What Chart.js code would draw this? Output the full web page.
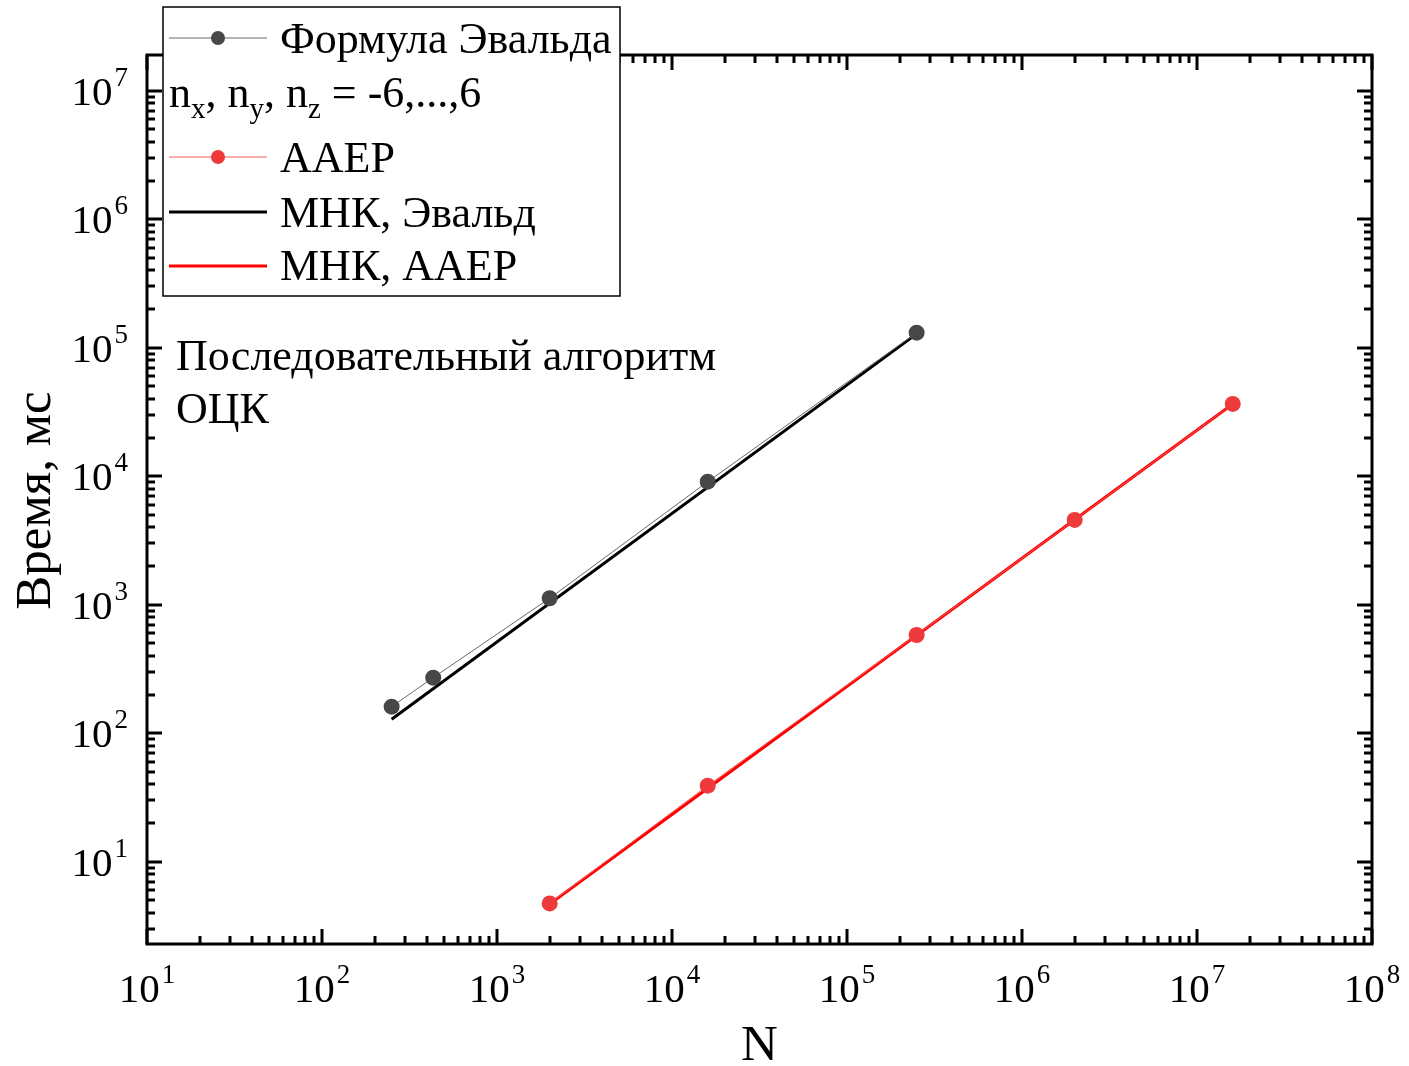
<!DOCTYPE html>
<html>
<head>
<meta charset="utf-8">
<title>Время расчёта</title>
<script src="https://cdn.jsdelivr.net/npm/chart.js@4.4.1/dist/chart.umd.min.js"></script>
<style>
  html, body { margin: 0; padding: 0; background: #ffffff; }
  canvas { display: block; }
</style>
</head>
<body>
<canvas id="c" width="1409" height="1066"></canvas>
<script>
// Measured run times (ms) versus number of particles N, BCC lattice
const ewaldN = [250, 432, 2000, 16000, 250000];
const ewaldTime = [161, 271, 1124, 9078, 131200];
const aaepN = [2000, 16000, 250000, 2000000, 16000000];
const aaepTime = [4.74, 39.1, 582, 4571, 36560];

// Least-squares fit lines (end points)
const fitEwaldN = [250, 250000];
const fitEwaldTime = [128.5, 128300];
const fitAaepN = [2000, 16000000];
const fitAaepTime = [4.69, 36560];

// Axis ranges and decade tick exponents
const xRange = [10, 1e8];
const yRange = [2.29, 1.9e7];
const xExponents = [1, 2, 3, 4, 5, 6, 7, 8];
const yExponents = [1, 2, 3, 4, 5, 6, 7];

// Texts
const seriesNames = ['Формула Эвальда', 'AAEP', 'МНК, Эвальд', 'МНК, AAEP'];
const rangeNote = [
  { t: 'n' }, { t: 'x', sub: true }, { t: ', n' }, { t: 'y', sub: true },
  { t: ', n' }, { t: 'z', sub: true }, { t: ' = -6,...,6' }
];
const noteLines = ['Последовательный алгоритм', 'ОЦК'];
const xTitle = 'N';
const yTitle = 'Время, мс';

const FONT = "'Liberation Serif', 'Times New Roman', serif";
const EWALD_COLOR = '#474747';
const AAEP_COLOR = '#ee3a3a';

const toPoints = (xs, ys) => xs.map((x, i) => ({ x: x, y: ys[i] }));

// Draws "10" with a raised exponent
function drawPower(ctx, exp, x, baseY, align) {
  ctx.font = '41px ' + FONT;
  const wb = ctx.measureText('10').width;
  ctx.font = '27px ' + FONT;
  const we = ctx.measureText(String(exp)).width;
  const gap = 2;
  const total = wb + gap + we;
  let start = x;
  if (align === 'center') start = x - total / 2;
  else if (align === 'right') start = x - total;
  ctx.fillStyle = '#000';
  ctx.textAlign = 'left';
  ctx.textBaseline = 'alphabetic';
  ctx.font = '41px ' + FONT;
  ctx.fillText('10', start, baseY);
  ctx.font = '27px ' + FONT;
  ctx.fillText(String(exp), start + wb + gap, baseY - 19);
}

const decorations = {
  id: 'decorations',
  afterDraw(chart) {
    const ctx = chart.ctx;
    const a = chart.chartArea;
    const xs = chart.scales.x;
    const ys = chart.scales.y;
    ctx.save();

    // ticks on all four sides, pointing inward
    ctx.strokeStyle = '#000';
    ctx.lineWidth = 3;
    ctx.lineCap = 'butt';
    const majorLen = 15, minorLen = 8;
    for (let d = 0; d <= 8; d++) {
      for (let k = 1; k <= 9; k++) {
        const v = k * Math.pow(10, d);
        const len = k === 1 ? majorLen : minorLen;
        if (v >= xRange[0] && v <= xRange[1]) {
          const px = Math.round(xs.getPixelForValue(v));
          ctx.beginPath();
          ctx.moveTo(px, a.bottom); ctx.lineTo(px, a.bottom - len);
          ctx.moveTo(px, a.top); ctx.lineTo(px, a.top + len);
          ctx.stroke();
        }
        if (v >= yRange[0] && v <= yRange[1]) {
          const py = Math.round(ys.getPixelForValue(v));
          ctx.beginPath();
          ctx.moveTo(a.left, py); ctx.lineTo(a.left + len, py);
          ctx.moveTo(a.right, py); ctx.lineTo(a.right - len, py);
          ctx.stroke();
        }
      }
    }

    // frame
    ctx.lineWidth = 3;
    ctx.strokeRect(a.left, a.top, a.right - a.left, a.bottom - a.top);

    // tick labels
    xExponents.forEach(e => {
      const px = xs.getPixelForValue(Math.pow(10, e));
      drawPower(ctx, e, px, 1002, 'center');
    });
    yExponents.forEach(e => {
      const py = ys.getPixelForValue(Math.pow(10, e));
      drawPower(ctx, e, 128, py + 14, 'right');
    });

    // axis titles
    ctx.fillStyle = '#000';
    ctx.font = '51px ' + FONT;
    ctx.textAlign = 'center';
    ctx.textBaseline = 'alphabetic';
    ctx.fillText(xTitle, (a.left + a.right) / 2, 1060);
    ctx.save();
    ctx.translate(50, (a.top + a.bottom) / 2 + 1);
    ctx.rotate(-Math.PI / 2);
    ctx.fillText(yTitle, 0, 0);
    ctx.restore();

    // note inside the plot
    ctx.font = '44px ' + FONT;
    ctx.textAlign = 'left';
    ctx.fillText(noteLines[0], 176, 370);
    ctx.fillText(noteLines[1], 176, 423);

    // legend box
    const lx = 163, ly = 7, lw = 457, lh = 289;
    ctx.fillStyle = '#fff';
    ctx.fillRect(lx, ly, lw, lh);
    ctx.strokeStyle = '#000';
    ctx.lineWidth = 1.5;
    ctx.strokeRect(lx, ly, lw, lh);

    const ds = chart.data.datasets;
    const rows = [
      { d: ds[0], y: 38, base: 53, name: seriesNames[0], marker: true },
      { d: ds[1], y: 157, base: 172, name: seriesNames[1], marker: true },
      { d: ds[2], y: 212, base: 227, name: seriesNames[2], marker: false },
      { d: ds[3], y: 266, base: 280, name: seriesNames[3], marker: false }
    ];
    rows.forEach(r => {
      ctx.strokeStyle = r.d.borderColor;
      ctx.lineWidth = r.d.borderWidth;
      ctx.beginPath();
      ctx.moveTo(169, r.y); ctx.lineTo(267, r.y);
      ctx.stroke();
      if (r.marker) {
        ctx.fillStyle = r.d.pointBackgroundColor;
        ctx.beginPath();
        ctx.arc(218, r.y, 7, 0, Math.PI * 2);
        ctx.fill();
      }
      ctx.fillStyle = '#000';
      ctx.font = '44px ' + FONT;
      ctx.fillText(r.name, 280, r.base);
    });

    // lattice range line with subscripts
    let cx = 169;
    rangeNote.forEach(s => {
      ctx.font = (s.sub ? '29px ' : '44px ') + FONT;
      ctx.fillText(s.t, cx, s.sub ? 118 : 107);
      cx += ctx.measureText(s.t).width;
    });

    ctx.restore();
  }
};

new Chart(document.getElementById('c'), {
  type: 'scatter',
  data: {
    datasets: [
      {
        label: seriesNames[0],
        data: toPoints(ewaldN, ewaldTime),
        showLine: true,
        borderColor: '#6a6a6a',
        borderWidth: 1,
        pointRadius: 8,
        pointBackgroundColor: EWALD_COLOR,
        pointBorderWidth: 0,
        pointBorderColor: EWALD_COLOR
      },
      {
        label: seriesNames[1],
        data: toPoints(aaepN, aaepTime),
        showLine: true,
        borderColor: '#f25a5a',
        borderWidth: 1,
        pointRadius: 8,
        pointBackgroundColor: AAEP_COLOR,
        pointBorderWidth: 0,
        pointBorderColor: AAEP_COLOR
      },
      {
        label: seriesNames[2],
        data: toPoints(fitEwaldN, fitEwaldTime),
        showLine: true,
        borderColor: '#000000',
        borderWidth: 3,
        pointRadius: 0
      },
      {
        label: seriesNames[3],
        data: toPoints(fitAaepN, fitAaepTime),
        showLine: true,
        borderColor: '#ff0000',
        borderWidth: 3,
        pointRadius: 0
      }
    ]
  },
  options: {
    responsive: false,
    animation: false,
    events: [],
    layout: { padding: { left: 147, right: 37, top: 55, bottom: 122 } },
    plugins: { legend: { display: false }, tooltip: { enabled: false } },
    scales: {
      x: { type: 'logarithmic', min: xRange[0], max: xRange[1], display: false },
      y: { type: 'logarithmic', min: yRange[0], max: yRange[1], display: false }
    }
  },
  plugins: [decorations]
});
</script>
</body>
</html>
